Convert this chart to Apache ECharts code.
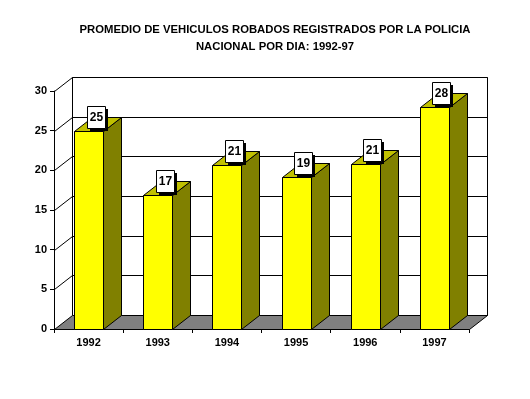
<!DOCTYPE html>
<html>
<head>
<meta charset="utf-8">
<script src="https://cdn.jsdelivr.net/npm/echarts@6/dist/echarts.min.js"></script>
<style>
  html, body { margin: 0; background: #fff; }
  #chart { width: 530px; height: 399px; }
</style>
</head>
<body>
<div id="chart"></div>
<script>
// datos
var anios = ['1992', '1993', '1994', '1995', '1996', '1997'];
var promedio = [24.9, 16.9, 20.7, 19.2, 20.8, 28.0];
var yTicks = [0, 5, 10, 15, 20, 25, 30];

var DX = 18, DY = 14; // profundidad del efecto 3D
var FONT = 'Liberation Sans, Arial, sans-serif';

// lineas nitidas de 1px
function px(v) { return Math.round(v) + 0.5; }

function renderParedes(params, api) {
  var cs = params.coordSys;
  var x0 = px(cs.x), x1 = px(cs.x + cs.width);
  var yb = px(api.coord([0, yTicks[0]])[1]);
  var yt = px(api.coord([0, yTicks[yTicks.length - 1]])[1]);
  var lineStyle = { stroke: '#000', lineWidth: 1, fill: null };
  var children = [];
  // pared del fondo
  children.push({
    type: 'rect',
    shape: { x: x0 + DX, y: yt - DY, width: x1 - x0, height: yb - yt },
    style: { fill: '#fff', stroke: '#000', lineWidth: 1 }
  });
  // piso
  children.push({
    type: 'polygon',
    shape: { points: [[x0, yb], [x1, yb], [x1 + DX, yb - DY], [x0 + DX, yb - DY]] },
    style: { fill: '#808080', stroke: '#000', lineWidth: 1 }
  });
  yTicks.forEach(function (t) {
    var y = px(api.coord([0, t])[1]);
    if (t > yTicks[0]) {
      children.push({
        type: 'line',
        shape: { x1: x0, y1: y, x2: x0 + DX, y2: y - DY },
        style: lineStyle
      });
      children.push({
        type: 'line',
        shape: { x1: x0 + DX, y1: y - DY, x2: x1 + DX, y2: y - DY },
        style: lineStyle
      });
    }
  });
  return { type: 'group', children: children };
}

function renderBarra(params, api) {
  var i = api.value(0), v = api.value(1);
  var top = api.coord([i, v]);
  var base = api.coord([i, 0]);
  var bw = api.size([1, 0])[0];
  var fw = Math.round(bw * 0.42);
  var xl = px(top[0] - fw / 2), xr = xl + fw;
  var yt = px(top[1]), yb = px(base[1]);
  var cx = Math.round(top[0] + 7), bottom = Math.round(top[1] - 3);
  return {
    type: 'group',
    children: [
      {
        type: 'polygon',
        shape: { points: [[xr, yt], [xr + DX, yt - DY], [xr + DX, yb - DY], [xr, yb]] },
        style: { fill: '#808000', stroke: '#000', lineWidth: 1 }
      },
      {
        type: 'polygon',
        shape: { points: [[xl, yt], [xr, yt], [xr + DX, yt - DY], [xl + DX, yt - DY]] },
        style: { fill: '#c0c000', stroke: '#000', lineWidth: 1 }
      },
      {
        type: 'rect',
        shape: { x: xl, y: yt, width: fw, height: yb - yt },
        style: { fill: '#ffff00', stroke: '#000', lineWidth: 1 }
      },
      {
        type: 'rect',
        shape: { x: cx - 9 + 3, y: bottom - 22 + 3, width: 18, height: 22 },
        style: { fill: '#000' }
      },
      {
        type: 'rect',
        shape: { x: cx - 9 + 0.5, y: bottom - 22 + 0.5, width: 18, height: 22 },
        style: { fill: '#fff', stroke: '#000', lineWidth: 1 }
      },
      {
        type: 'text',
        style: {
          text: String(Math.round(v)),
          x: cx + 0.5, y: bottom - 10.5,
          align: 'center', verticalAlign: 'middle',
          fill: '#000',
          font: 'bold 12px ' + FONT
        }
      }
    ]
  };
}

var chart = echarts.init(document.getElementById('chart'));
chart.setOption({
  animation: false,
  title: {
    text: 'PROMEDIO DE VEHICULOS ROBADOS REGISTRADOS POR LA POLICIA\nNACIONAL POR DIA: 1992-97',
    left: 275,
    top: 21,
    padding: 0,
    textAlign: 'center',
    textStyle: { fontFamily: FONT, fontWeight: 'bold', fontSize: 11.3, lineHeight: 17, color: '#000' }
  },
  grid: { left: 54, top: 91, width: 415, height: 238 },
  xAxis: {
    type: 'category',
    data: anios,
    axisLine: { lineStyle: { color: '#000', width: 1 } },
    axisTick: { show: true, length: 4, lineStyle: { color: '#000' } },
    axisLabel: { color: '#000', fontFamily: FONT, fontWeight: 'bold', fontSize: 11, margin: 8 },
    splitLine: { show: false }
  },
  yAxis: {
    type: 'value',
    min: yTicks[0],
    max: yTicks[yTicks.length - 1],
    interval: 5,
    axisLine: { show: true, lineStyle: { color: '#000', width: 1 } },
    axisTick: { show: true, length: 4, lineStyle: { color: '#000' } },
    axisLabel: { color: '#000', fontFamily: FONT, fontWeight: 'bold', fontSize: 11, margin: 7 },
    splitLine: { show: false }
  },
  series: [
    {
      type: 'custom',
      renderItem: renderParedes,
      data: [[0, 0]],
      clip: false,
      silent: true,
      z: 1
    },
    {
      type: 'custom',
      renderItem: renderBarra,
      data: anios.map(function (a, i) { return [i, promedio[i]]; }),
      clip: false,
      z: 3
    }
  ]
});
</script>
</body>
</html>
